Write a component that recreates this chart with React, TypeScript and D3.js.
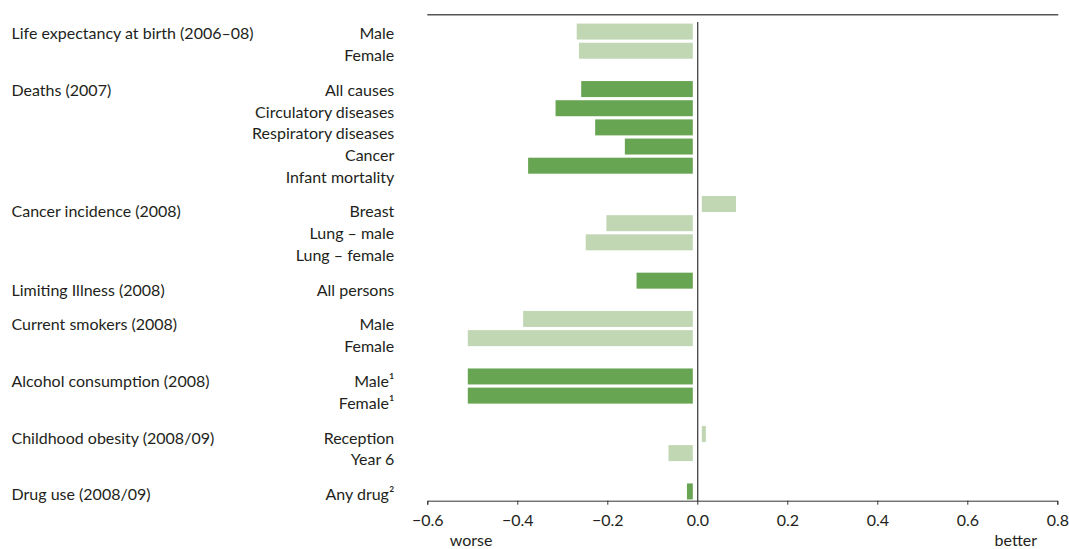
import React, {useEffect, useRef} from "react"
import * as d3 from "d3"

// indicator groups, their rows and the values
const groups = [
    "Life expectancy at birth (2006–08)",
    "Deaths (2007)",
    "Cancer incidence (2008)",
    "Limiting Illness (2008)",
    "Current smokers (2008)",
    "Alcohol consumption (2008)",
    "Childhood obesity (2008/09)",
    "Drug use (2008/09)",
]
const categories = [
    ["Male", "Female"],
    ["All causes", "Circulatory diseases", "Respiratory diseases", "Cancer", "Infant mortality"],
    ["Breast", "Lung – male", "Lung – female"],
    ["All persons"],
    ["Male", "Female"],
    ["Male¹", "Female¹"],
    ["Reception", "Year 6"],
    ["Any drug²"],
]
const values = [
    [-0.268, -0.263],
    [-0.258, -0.315, -0.227, -0.161, -0.376],
    [0.086, -0.202, -0.248],
    [-0.135],
    [-0.387, -0.51],
    [-0.51, -0.51],
    [0.019, -0.064],
    [-0.023],
]
// significantly different -> dark green
const significant = [false, true, false, true, false, true, false, true]
const xTicks = [-0.6, -0.4, -0.2, 0, 0.2, 0.4, 0.6, 0.8]

const W = 1069
const H = 549
const FONT = "Lato, 'Open Sans', sans-serif"
const DARK = "#68a553"
const LIGHT = "#c1d7b4"
const INK = "#231f20"

type Row = {key: string, label: string, value: number, sig: boolean, group: number, line: number}

const App = () => {
    const ref = useRef(null)

    useEffect(() => {
        const svg = d3.select(ref.current)
        svg.selectAll("*").remove()

        // flatten rows, empty slot between groups
        const rows: Row[] = []
        const slots: string[] = []
        let line = 0
        groups.forEach((g, gi) => {
            if (gi > 0) slots.push("gap" + gi)
            categories[gi].forEach((c, ci) => {
                const key = gi + "-" + ci
                slots.push(key)
                rows.push({key, label: c, value: values[gi][ci], sig: significant[gi], group: gi, line})
                line++
            })
        })

        const x = d3.scaleLinear().domain([-0.6, 0.8]).range([427.3, 1057.3])
        const y = d3.scaleBand().domain(slots).range([22, 501])
            .paddingInner(0.165).paddingOuter(0.0825)
        // text lines are set a little looser than the bars
        const lineY = (l: number, g: number) => 39.3 + l * 21.67 + g * 13.2

        const gap = 4.5
        const x0 = x(0)

        svg.append("line")
            .attr("x1", x.range()[0]).attr("x2", x.range()[1] + 1)
            .attr("y1", 14.7).attr("y2", 14.7)
            .attr("stroke", "#555").attr("stroke-width", 1.6)

        svg.append("g").selectAll("rect")
            .data(rows)
            .join("rect")
            .attr("x", d => d.value < 0 ? x(d.value) : x0 + gap)
            .attr("width", d => Math.max(0, Math.abs(x(d.value) - x0) - gap))
            .attr("y", d => y(d.key) as number)
            .attr("height", y.bandwidth())
            .attr("fill", d => d.sig ? DARK : LIGHT)

        svg.append("line")
            .attr("x1", x0 + 0.4).attr("x2", x0 + 0.4)
            .attr("y1", 22).attr("y2", 501)
            .attr("stroke", "#444").attr("stroke-width", 1.3)

        // row labels
        svg.append("g").selectAll("text")
            .data(rows)
            .join("text")
            .attr("x", 394.3)
            .attr("y", d => lineY(d.line, d.group))
            .attr("text-anchor", "end")
            .attr("font-family", FONT).attr("font-size", 16).attr("fill", INK)
            .text(d => d.label)

        // group titles on the first line of each group
        const firstLines = groups.map((g, gi) => rows.find(r => r.group === gi)!.line)
        svg.append("g").selectAll("text")
            .data(groups)
            .join("text")
            .attr("x", 11.5)
            .attr("y", (d, i) => lineY(firstLines[i], i))
            .attr("font-family", FONT).attr("font-size", 16).attr("fill", INK)
            .text(d => d)

        const axis = svg.append("g")
            .attr("transform", `translate(0,${500.7})`)
            .call(d3.axisBottom(x).tickValues(xTicks).tickFormat(d3.format(".1f"))
                .tickSize(4).tickPadding(10))
        axis.select(".domain").attr("stroke", "#333")
        axis.selectAll(".tick line").attr("stroke", "#333")
        axis.selectAll("text")
            .attr("font-family", FONT).attr("font-size", 16).attr("fill", INK)

        svg.append("text")
            .attr("x", x(-0.55)).attr("y", 546)
            .attr("font-family", FONT).attr("font-size", 16).attr("fill", INK)
            .text("worse")
        svg.append("text")
            .attr("x", x(0.755)).attr("y", 546)
            .attr("text-anchor", "end")
            .attr("font-family", FONT).attr("font-size", 16).attr("fill", INK)
            .text("better")
    })

    return (
        <svg
            ref={ref}
            width={W}
            height={H}
            viewBox={`0 0 ${W} ${H}`}
            style={{position: "absolute", left: 0, top: 0, background: "#fff"}}
        />
    )
}

export default App
